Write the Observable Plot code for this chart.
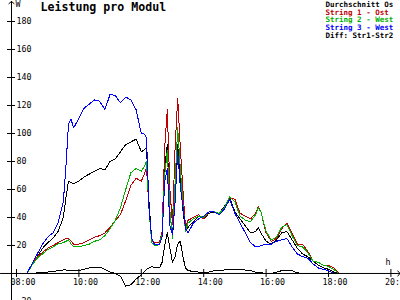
<!DOCTYPE html>
<html><head><meta charset="utf-8">
<script src="https://cdn.jsdelivr.net/npm/d3@7"></script>
<script src="https://cdn.jsdelivr.net/npm/@observablehq/plot@0.6"></script>
<style>
html,body{margin:0;padding:0;background:#fff;}
svg{display:block}
svg g[aria-label="line"] path{shape-rendering:crispEdges}
</style></head><body><div id="chart"></div>
<script>
const title = "Leistung pro Modul";
const times = ["08:20","08:30","08:40","08:50","09:00","09:10","09:20","09:30","09:35","09:40","09:45","09:50",
"10:00","10:10","10:20","10:30","10:40","10:50","11:00","11:10","11:20","11:30","11:40","11:50",
"12:00","12:05","12:10","12:15","12:20","12:25","12:30","12:35","12:40","12:45","12:50","12:55",
"13:00","13:05","13:10","13:15","13:20","13:25","13:30","13:40","13:50",
"14:00","14:10","14:20","14:30","14:40","14:50","15:00","15:10","15:20","15:30","15:40","15:45","15:50",
"16:00","16:10","16:20","16:30","16:40","16:50","17:00","17:10","17:20","17:30","17:40","17:50",
"18:00","18:10","18:20"];
const avg = [0,6,12,18,22,25,30,40,54,66,65,64,
66,69,71,73,75,74,80,82,87,92,94,96,
87,88,90,50,24,21,21,21,28,75,92,45,
25,55,92,68,45,31,33,37,41,
39,43,44,43,48,54,44,39,34,29,30,33,29,
23,21,24,29,30,24,18,14,12,9,6,4,
3,1,0];
const str1 = [0,7,12,15,18,20,22,24,25,25,23,21,
21,22,24,26,27,29,33,38,42,52,63,68,
66,70,76,45,23,22,22,22,30,90,117,60,
35,90,125,90,60,33,38,40,42,
39,44,44,43,46,54,53,43,41,39,43,48,44,
29,23,25,32,36,29,21,21,16,9,8,6,
6,4,0];
const str2 = [0,6,11,14,17,19,21,22,23,24,21,19,
19,20,21,23,24,27,32,38,47,60,72,75,
73,76,80,45,22,20,20,21,28,70,88,45,
25,65,104,75,50,30,36,39,41,
40,44,44,43,47,55,51,41,38,37,42,47,44,
30,24,26,33,35,27,20,19,15,9,8,6,
5,3,0];
const str3 = [0,7,14,21,26,29,36,51,76,107,110,104,
111,118,121,124,123,117,128,127,122,126,124,117,
100,100,97,45,25,21,21,21,26,66,75,34,
28,51,87,62,48,32,29,36,39,
41,44,44,42,46,53,43,36,29,22,19,19,20,
21,21,23,24,25,19,14,12,11,7,4,3,
2,0,0];
const diff = [0,0,0.5,1,1,1.5,2,2.5,2.5,2,2,2,
2,3,4,4.5,4.5,3,1,0,-2,-9,-8,-4,
-1,1,3,4,5,4,4,4,8,20,29,18,
8,12,21,23,12,4,2,1.5,1,
0.5,1,2,2,2.5,3,3,3,2.5,2,1,1,0.5,
0,0,1,2,2.5,2,0.5,0,0,0,0,0,
0,0,0];
const legendLabels = ["Durchschnitt Os","String 1 - Ost","String 2 - West","String 3 - West","Diff: Str1-Str2"];
const colors = ["#000000","#c00000","#00b000","#0000ff","#000000"];
const xTickHours = [8,10,12,14,16,18,20];
const yTickValues = [-20,20,40,60,80,100,120,140,160,180];

const toH = t => { const [h,m] = t.split(":").map(Number); return h + m/60; };
const fmt = h => String(h).padStart(2,"0") + ":00";
const series = [avg, str1, str2, str3, diff];
const font = "DejaVu Sans Mono, monospace";
const axisH = 7.84;
const xMin = 7.4872, xMax = 20.3077;

const lineMarks = series.map((vals,i) =>
  Plot.line(times.map((t,j) => ({h: toH(t), v: vals[j]})), {x:"h", y:"v", stroke: colors[i], strokeWidth: 1})
);
const legendMarks = legendLabels.map((l,i) =>
  Plot.text([l], {frameAnchor:"top-left", dx:325, dy:1 + i*7.7, lineAnchor:"top", textAnchor:"start", fill: colors[i], fontSize: 7.5, letterSpacing: "0.49px", fontWeight: "bold"})
);

const chart = Plot.plot({
  width: 400, height: 300, margin: 0,
  x: {type:"linear", domain:[xMin, xMax], axis: null},
  y: {domain:[-19.3, 195], axis: null},
  style: {fontFamily: font, fontSize: "8.3px", background: "#fff", color: "#000", overflow: "hidden"},
  marks: [
    Plot.arrow([0], {x1: axisH, x2: axisH, y1: -19.3, y2: 194.3, headLength: 5, headAngle: 100, strokeWidth: 1, stroke: "#000"}),
    Plot.arrow([0], {x1: xMin, x2: 20.29, y1: 0, y2: 0, headLength: 5, headAngle: 100, strokeWidth: 1, stroke: "#000"}),
    Plot.ruleY(yTickValues, {y: d => d, x1: axisH, x2: axisH, insetLeft: -4, insetRight: -4, stroke: "#000"}),
    Plot.ruleX(xTickHours, {x: d => d, y1: 0, y2: 0, insetTop: -4, insetBottom: -4, stroke: "#000"}),
    Plot.text(yTickValues, {x: axisH, y: d => d, text: d => String(d), textAnchor: "start", dx: 5, fill: "#000"}),
    Plot.text(xTickHours, {x: d => d, y: 0, text: fmt, textAnchor: "start", dx: -6, dy: 9, fill: "#000"}),
    Plot.text(["W"], {frameAnchor: "top-left", dx: 15, dy: 1, lineAnchor: "top", textAnchor: "start", fill: "#000"}),
    Plot.text(["h"], {frameAnchor: "top-left", dx: 385, dy: 259, lineAnchor: "top", textAnchor: "start", fill: "#000"}),
    Plot.text([title], {frameAnchor: "top-left", dx: 40, dy: 2, lineAnchor: "top", textAnchor: "start", fontWeight: "bold", fontSize: 11.6, fill: "#000"}),
    ...lineMarks,
    ...legendMarks
  ]
});
document.getElementById("chart").appendChild(chart);
</script></body></html>
